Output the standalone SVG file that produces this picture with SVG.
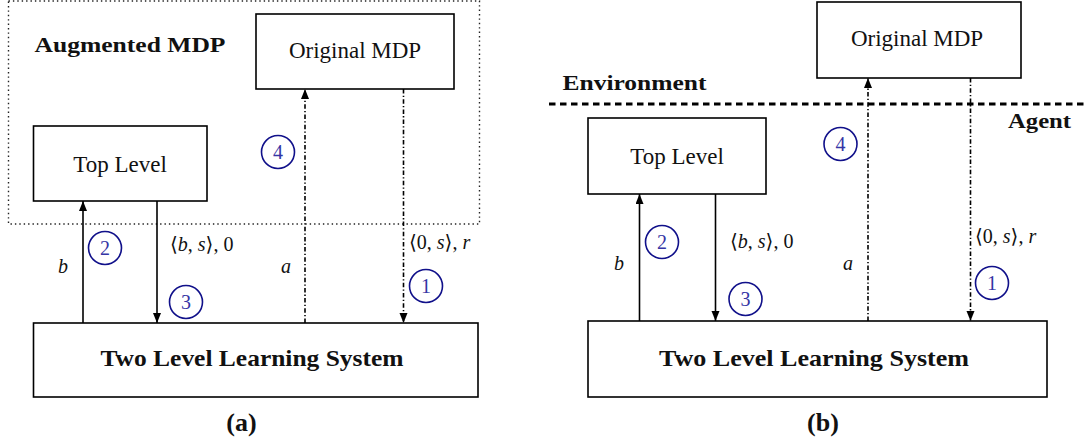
<svg xmlns="http://www.w3.org/2000/svg" width="1085" height="443" viewBox="0 0 1085 443" font-family="'Liberation Serif', 'DejaVu Serif', serif">
<style>
text{font-family:'Liberation Serif','DejaVu Serif',serif}
.box{fill:#fff;stroke:#000;stroke-width:1.6}
.txt{fill:#111}
.lbl{font-size:23px}
.bold{font-weight:bold}
.big{font-size:24px}
.math{font-size:20px}
.it{font-style:italic}
.num{font-size:20px;fill:#3535a5;text-anchor:middle}
.circ{fill:none;stroke:#10108a;stroke-width:1.6}
.solid{stroke:#000;stroke-width:1.6;fill:none}
.dashdot{stroke:#000;stroke-width:1.6;fill:none;stroke-dasharray:4.5 2.2 1.3 2.2}
.dotted{fill:none;stroke:#222;stroke-width:1.4;stroke-dasharray:1.4 3}
.dashed{stroke:#000;stroke-width:3;stroke-dasharray:6.5 4.5}
.cap{font-size:26px;font-weight:bold;text-anchor:middle}
</style>
<defs>
<marker id="arr" markerUnits="userSpaceOnUse" markerWidth="11" markerHeight="9" refX="10" refY="4" orient="auto">
<path d="M0,0 L10,4 L0,8 z" fill="#000"/>
</marker>
</defs>

<!-- Panel (a) -->
<rect class="dotted" x="8.5" y="1" width="471" height="223"/>
<text class="txt bold" x="34.5" y="52" font-size="22" textLength="191" lengthAdjust="spacingAndGlyphs">Augmented MDP</text>

<g id="a-original">
<rect class="box" x="256" y="14" width="198" height="75"/>
<text class="txt lbl" x="355" y="58" text-anchor="middle">Original MDP</text>
</g>
<g id="a-top">
<rect class="box" x="33.5" y="126" width="173.5" height="75"/>
<text class="txt lbl" x="120" y="172" text-anchor="middle">Top Level</text>
</g>
<g id="a-system">
<rect class="box" x="33.5" y="323" width="444.5" height="74"/>
<text class="txt bold big" x="252" y="366" text-anchor="middle" textLength="303" lengthAdjust="spacingAndGlyphs">Two Level Learning System</text>
</g>

<g id="a-connectors">
<line class="solid" x1="83" y1="323" x2="83" y2="201" marker-end="url(#arr)"/>
<line class="solid" x1="157" y1="201" x2="157" y2="323" marker-end="url(#arr)"/>
<line class="dashdot" x1="305" y1="323" x2="305" y2="89" marker-end="url(#arr)"/>
<line class="dashdot" x1="403.5" y1="89" x2="403.5" y2="323" marker-end="url(#arr)"/>
</g>

<g id="a-labels">
<text class="txt math it" x="58" y="273">b</text>
<text class="txt math" x="170" y="251">⟨<tspan class="it">b</tspan>, <tspan class="it">s</tspan>⟩, 0</text>
<text class="txt math it" x="281" y="273">a</text>
<text class="txt math" x="409" y="249">⟨0, <tspan class="it">s</tspan>⟩, <tspan class="it">r</tspan></text>
</g>

<g id="a-steps">
<circle class="circ" cx="426" cy="286" r="16.5"/><text class="num" x="426" y="293">1</text>
<circle class="circ" cx="105" cy="248" r="16.5"/><text class="num" x="105" y="255">2</text>
<circle class="circ" cx="186" cy="302" r="16.5"/><text class="num" x="186" y="309">3</text>
<circle class="circ" cx="278" cy="152" r="16.5"/><text class="num" x="278" y="159">4</text>
</g>

<text class="txt cap" x="241.5" y="431">(a)</text>

<!-- Panel (b) -->
<line class="dashed" x1="549" y1="104" x2="1085" y2="104"/>
<text class="txt bold" x="562.5" y="90" font-size="22" textLength="144" lengthAdjust="spacingAndGlyphs">Environment</text>
<text class="txt bold" x="1008" y="128" font-size="22" textLength="63" lengthAdjust="spacingAndGlyphs">Agent</text>

<g id="b-original">
<rect class="box" x="817" y="2" width="204" height="76"/>
<text class="txt lbl" x="917" y="46" text-anchor="middle">Original MDP</text>
</g>
<g id="b-top">
<rect class="box" x="588" y="118" width="178" height="76"/>
<text class="txt lbl" x="677" y="164" text-anchor="middle">Top Level</text>
</g>
<g id="b-system">
<rect class="box" x="588" y="321" width="459" height="76"/>
<text class="txt bold big" x="814" y="366" text-anchor="middle" textLength="310" lengthAdjust="spacingAndGlyphs">Two Level Learning System</text>
</g>

<g id="b-connectors">
<line class="solid" x1="639.5" y1="321" x2="639.5" y2="194" marker-end="url(#arr)"/>
<line class="solid" x1="715.5" y1="194" x2="715.5" y2="321" marker-end="url(#arr)"/>
<line class="dashdot" x1="868" y1="321" x2="868" y2="78" marker-end="url(#arr)"/>
<line class="dashdot" x1="970.5" y1="78" x2="970.5" y2="321" marker-end="url(#arr)"/>
</g>

<g id="b-labels">
<text class="txt math it" x="614" y="270">b</text>
<text class="txt math" x="730" y="248">⟨<tspan class="it">b</tspan>, <tspan class="it">s</tspan>⟩, 0</text>
<text class="txt math it" x="843" y="270">a</text>
<text class="txt math" x="975" y="243">⟨0, <tspan class="it">s</tspan>⟩, <tspan class="it">r</tspan></text>
</g>

<g id="b-steps">
<circle class="circ" cx="992" cy="283" r="16.5"/><text class="num" x="992" y="290">1</text>
<circle class="circ" cx="662" cy="242" r="16.5"/><text class="num" x="662" y="249">2</text>
<circle class="circ" cx="745.5" cy="299" r="16.5"/><text class="num" x="745.5" y="306">3</text>
<circle class="circ" cx="840.5" cy="144" r="16.5"/><text class="num" x="840.5" y="151">4</text>
</g>

<text class="txt cap" x="823" y="431">(b)</text>
</svg>
